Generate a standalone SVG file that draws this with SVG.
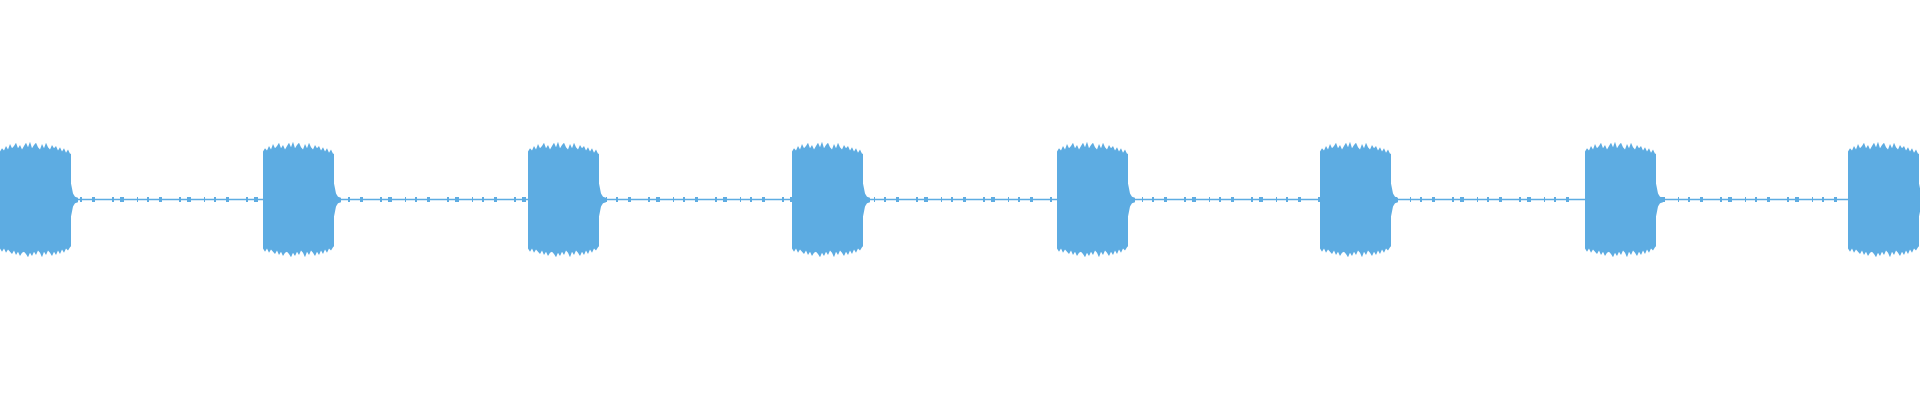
<svg xmlns="http://www.w3.org/2000/svg" width="1920" height="400" viewBox="0 0 1920 400">
<style>.w{fill:#5DACE2}.l{stroke:#5DACE2;stroke-width:1.6;fill:none}.n{stroke:#5DACE2;stroke-width:5;stroke-dasharray:2 10 3 17 2 6 4 13 1 9}</style>
<defs>
<g id="blk" transform="translate(0,200) scale(1,1.1) translate(0,-200)">
<polygon class="w" points="0,156 2,153 4,155 6,151 8,154 10,149 12,153 14,151 16,148 18,153 20,150 22,154 24,151 26,148 28,152 30,147 32,153 34,150 36,148 38,152 40,154 42,149 44,153 46,148 48,152 50,154 52,150 54,153 56,151 58,155 60,152 62,156 64,153 66,157 68,154 70,158 71,158 71,185 73,194 75,197 78,198 78,202 75,203 73,206 71,215 71,242 70,243 68,246 66,244 64,248 62,245 60,249 58,246 56,250 54,247 52,251 50,248 48,246 46,250 44,247 42,252 40,248 38,246 36,250 34,247 32,251 30,248 28,252 26,249 24,247 22,248 20,251 18,247 16,250 14,246 12,249 10,247 8,245 6,248 4,244 2,247 0,244"/>
</g>
</defs>
<g id="baseline"><line class="l" x1="0" y1="199.5" x2="1920" y2="199.5"/>
<line class="n" x1="80" y1="199.5" x2="1920" y2="199.5"/></g>
<g id="blocks">
<use href="#blk" x="0"/>
<use href="#blk" x="263"/>
<use href="#blk" x="528"/>
<use href="#blk" x="792"/>
<use href="#blk" x="1057"/>
<use href="#blk" x="1320"/>
<use href="#blk" x="1585"/>
<use href="#blk" x="1848"/>
</g>
</svg>
